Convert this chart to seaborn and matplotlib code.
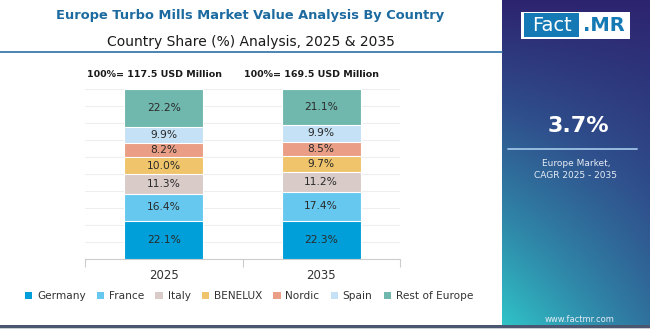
import numpy as np
import pandas as pd
import matplotlib
matplotlib.use("Agg")
import matplotlib.pyplot as plt
from matplotlib.patches import Rectangle, Patch
from matplotlib.colors import LinearSegmentedColormap
from matplotlib.lines import Line2D
import seaborn as sns

# ---- data ----
years = ["2025", "2035"]
countries = ["Germany", "France", "Italy", "BENELUX", "Nordic", "Spain", "Rest of Europe"]
share_2025 = [22.1, 16.4, 11.3, 10.0, 8.2, 9.9, 22.2]
share_2035 = [22.3, 17.4, 11.2, 9.7, 8.5, 9.9, 21.1]
totals = ["117.5", "169.5"]
colors = ["#009fd9", "#67c8ef", "#d8cbc8", "#efc46a", "#eb9e86", "#c5e1f5", "#70b8ae"]
cagr = "3.7%"

sns.set_theme(style="white")
plt.rcParams["font.family"] = ["DejaVu Sans"]

W, H = 650, 329
fig = plt.figure(figsize=(W / 100, H / 100), dpi=100)
fig.patch.set_facecolor("white")

def fx(px):
    return px / W

def fy(py):
    return 1 - py / H

# main axes
ax = fig.add_axes([fx(85), fy(259), fx(400) - fx(85), fy(89) - fy(259)])
rows = []
for yr, vals in zip(years, [share_2025, share_2035]):
    cum = np.cumsum(vals)
    for c, v, cu in zip(countries, vals, cum):
        rows.append({"year": yr, "country": c, "share": v, "cum": cu, "base": cu - v})
df = pd.DataFrame(rows)

for c, col in reversed(list(zip(countries, colors))):
    sub = df[df["country"] == c]
    sns.barplot(data=sub, x="year", y="cum", order=years, color=col, width=0.5,
                edgecolor="white", linewidth=0.8, saturation=1, ax=ax, zorder=3)

for i, yr in enumerate(years):
    sub = df[df["year"] == yr]
    for _, r in sub.iterrows():
        ax.text(i, r["base"] + r["share"] / 2, f"{r['share']:.1f}%", ha="center", va="center",
                fontsize=7.7, color="#2a2a2a", zorder=5)

ax.set_xlim(-0.5, 1.5)
ax.set_ylim(0, 100)
ax.set_yticks(np.arange(0, 101, 10))
ax.yaxis.grid(True, color="#eeeeee", linewidth=0.8, zorder=0)
ax.set_axisbelow(True)
ax.set_yticklabels([])
ax.tick_params(axis="y", length=0)
for s in ["top", "right", "left"]:
    ax.spines[s].set_visible(False)
ax.spines["bottom"].set_color("#cccccc")
ax.spines["bottom"].set_linewidth(0.8)
ax.set_xlabel("")
ax.set_ylabel("")
ax.set_xticks([0, 1])
ax.set_xticklabels(years, fontsize=8.5, color="#333333")
ax.set_xticks([-0.5, 0.5, 1.5], minor=True)
ax.tick_params(axis="x", which="major", length=0, pad=7)
ax.tick_params(axis="x", which="minor", length=6, width=0.8, color="#cccccc", direction="out", bottom=True)

for i, t in enumerate(totals):
    ax.text(i - 0.06, 108.5, f"100%= {t} USD Million", ha="center", va="center",
            fontsize=6.8, fontweight="bold", color="#1a1a1a", clip_on=False)

# legend
handles = [Patch(facecolor=c, edgecolor="none") for c in colors]
fig.legend(handles, countries, loc="center", bbox_to_anchor=(fx(249), fy(296)), ncol=7,
           frameon=False, fontsize=7.6, handlelength=0.7, handleheight=0.7,
           handletextpad=0.45, columnspacing=1.05, labelcolor="#333333")

# title
fig.text(fx(250), fy(16), "Europe Turbo Mills Market Value Analysis By Country", ha="center",
         va="center", fontsize=9.4, fontweight="bold", color="#1c6aa0")
fig.text(fx(251), fy(42), "Country Share (%) Analysis, 2025 & 2035", ha="center", va="center",
         fontsize=10, color="#1a1a1a")
fig.add_artist(Line2D([0, fx(502)], [fy(52), fy(52)], color="#2a6fa8", linewidth=1.2))

# bottom strip
fig.add_artist(Rectangle((0, 0), 1, fy(325) - 0, transform=fig.transFigure, facecolor="#4b5670",
                         edgecolor="none"))
fig.add_artist(Rectangle((0, 0), 1, fy(327.5), transform=fig.transFigure, facecolor="#c9cdd6",
                         edgecolor="none"))

# right panel gradient
pax = fig.add_axes([fx(502), fy(327), 1 - fx(502), fy(0) - fy(327)])
ny, nx = 200, 100
u = np.linspace(0, 1, ny)[:, None]  # from top
v = np.linspace(0, 1, nx)[None, :]  # from left
t = np.clip(u * (1 - 0.45 * v), 0, 1)
cmap = LinearSegmentedColormap.from_list("g", ["#2d2470", "#2f4f8c", "#2f86a8", "#30c4c8"])
pax.imshow(t, cmap=cmap, aspect="auto", extent=[0, 1, 1, 0], vmin=0, vmax=1)
pax.set_xlim(0, 1)
pax.set_ylim(1, 0)
pax.axis("off")

# logo
fig.add_artist(Rectangle((fx(521), fy(39)), fx(630) - fx(521), fy(12) - fy(39),
                         transform=fig.transFigure, facecolor="white", edgecolor="none"))
fig.add_artist(Rectangle((fx(524), fy(37)), fx(579) - fx(524), fy(13) - fy(37),
                         transform=fig.transFigure, facecolor="#1479b4", edgecolor="none"))
fig.text(fx(551.5), fy(25.5), "Fact", ha="center", va="center", fontsize=14, color="white")
fig.text(fx(604), fy(25.5), ".MR", ha="center", va="center", fontsize=14, fontweight="bold",
         color="#1479b4")

fig.text(fx(578), fy(126), cagr, ha="center", va="center", fontsize=16, fontweight="bold",
         color="white")
fig.add_artist(Line2D([fx(508), fx(637)], [fy(149), fy(149)], color="#9ec3e6", linewidth=1.3))
fig.text(fx(576), fy(163), "Europe Market,", ha="center", va="center", fontsize=6.5,
         color="#e6ecf5")
fig.text(fx(576), fy(176), "CAGR 2025 - 2035", ha="center", va="center", fontsize=6.5,
         color="#e6ecf5")
fig.text(fx(580), fy(319), "www.factmr.com", ha="center", va="center", fontsize=6,
         color="#e6ecf5")

fig.savefig("out.png", dpi=100)
